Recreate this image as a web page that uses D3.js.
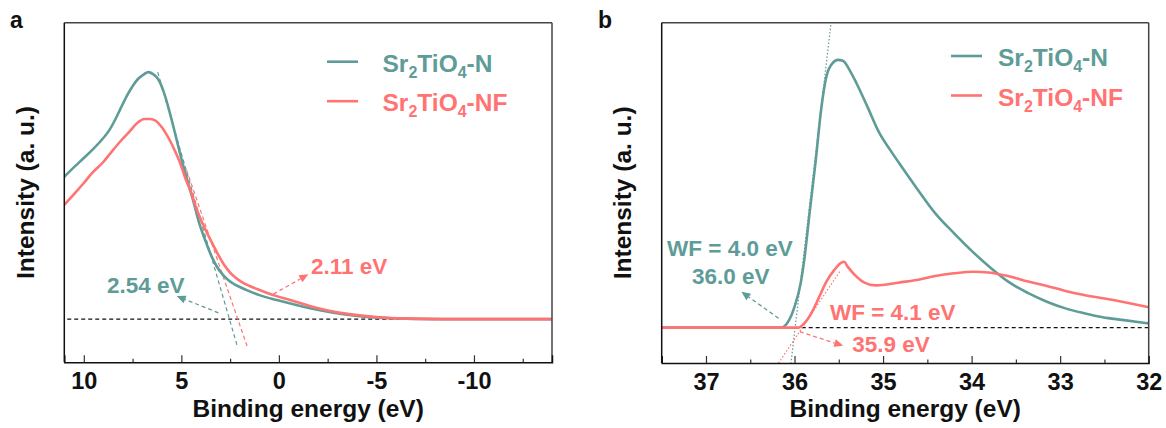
<!DOCTYPE html>
<html><head><meta charset="utf-8">
<script src="https://cdn.jsdelivr.net/npm/d3@7"></script>
<style>
body{margin:0;background:#fff}
text{font-family:"Liberation Sans",Arial,Helvetica,sans-serif;font-weight:bold}
</style>
</head><body>
<svg id="chart" width="1166" height="428"></svg>
<script>
// ---------- DATA ----------
const seriesNames = [["Sr","2","TiO","4","-N"],["Sr","2","TiO","4","-NF"]];
const seriesColors = ["#5E9C97","#FF7373"];

// Panel a: valence band (binding energy, eV)
const vbEnergyN = [11.0,10.5,10.0,9.5,9.0,8.7,8.4,8.1,7.8,7.5,7.2,6.9,6.7,6.45,6.16,5.9,5.6,5.3,5.02,4.7,4.4,4.1,3.78,3.5,3.2,2.9,2.6,2.3,2.0,1.65,1.0,0.1,-1.0,-2.1,-3.3,-4.5,-6.0,-8.0,-14.0];
const vbIntN    = [0.576,0.615,0.652,0.690,0.733,0.764,0.806,0.855,0.903,0.943,0.974,0.992,1.0,0.992,0.968,0.919,0.838,0.745,0.656,0.563,0.482,0.393,0.320,0.263,0.215,0.182,0.158,0.142,0.130,0.117,0.097,0.077,0.055,0.036,0.020,0.009,0.003,0,0];
const vbEnergyNF = [11.0,10.5,10.0,9.58,9.0,8.63,8.2,7.68,7.2,6.9,6.6,6.3,6.0,5.6,5.3,5.02,4.8,4.5,4.2,3.9,3.5,3.1,2.8,2.5,2.2,1.9,1.5,0.96,0.2,-0.57,-1.5,-2.45,-3.6,-5.0,-6.5,-8.5,-14.0];
const vbIntNF    = [0.462,0.506,0.551,0.591,0.636,0.672,0.713,0.757,0.798,0.810,0.810,0.802,0.777,0.725,0.676,0.623,0.571,0.514,0.441,0.385,0.320,0.259,0.219,0.188,0.166,0.150,0.134,0.117,0.095,0.077,0.055,0.036,0.020,0.008,0.002,0,0];
// tangent (extrapolation) lines, panel a: [E, I] endpoints
const vbTangentN  = [[6.21,1.0],[2.15,-0.105]];
const vbTangentNF = [[4.73,0.603],[1.62,-0.112]];
const vbBaseline  = [[10.85,0],[-13.0,0]];

// Panel b: secondary electron cutoff (binding energy, eV)
const secEnergyN = [37.5,36.15,36.11,36.06,36.0,35.93,35.89,35.83,35.76,35.70,35.64,35.57,35.51,35.45,35.38,35.30,35.17,35.05,34.92,34.79,34.62,34.41,34.20,33.99,33.78,33.57,33.36,33.15,32.94,32.73,32.52,32.30,32.0];
const secIntN    = [0,0,0.006,0.029,0.078,0.167,0.253,0.428,0.626,0.813,0.938,0.988,1.0,0.996,0.963,0.913,0.820,0.732,0.664,0.601,0.521,0.427,0.353,0.284,0.222,0.168,0.129,0.097,0.072,0.054,0.039,0.029,0.016];
const secEnergyNF = [37.5,35.96,35.89,35.80,35.72,35.64,35.55,35.47,35.44,35.40,35.32,35.21,35.09,34.98,34.83,34.62,34.41,34.20,33.99,33.78,33.57,33.36,33.15,32.94,32.73,32.52,32.30,32.0];
const secIntNF    = [0,0,0.016,0.060,0.116,0.172,0.216,0.243,0.246,0.228,0.197,0.168,0.158,0.160,0.168,0.178,0.193,0.203,0.209,0.205,0.191,0.172,0.156,0.137,0.122,0.110,0.097,0.076];
const secTangentN  = [[35.59,1.13],[36.04,-0.132]];
const secTangentNF = [[35.49,0.209],[36.18,-0.132]];
const secBaseline  = [[37.5,0],[32.0,0]];

// tick values
const ticksA = [10,5,0,-5,-10];
const minorA = [7.5,2.5,-2.5,-7.5,-12.5];
const ticksB = [37,36,35,34,33,32];
const minorB = [36.5,35.5,34.5,33.5,32.5];

// annotations: text, anchor [E,I], arrow tail/head [E,I]
const annA = [
  {t:"2.54 eV", s:0, at:[6.82,0.104]},
  {t:"2.11 eV", s:1, at:[-3.6,0.182]}
];
const arrowsA = [
  {s:0, from:[3.10,0.0255], to:[5.24,0.093]},
  {s:1, from:[0.28,0.101], to:[-1.51,0.181]}
];
const annB = [
  {t:"WF = 4.0 eV", s:0, at:[36.73,0.268]},
  {t:"36.0 eV", s:0, at:[36.72,0.163]},
  {t:"WF = 4.1 eV", s:1, at:[34.89,0.029]},
  {t:"35.9 eV", s:1, at:[34.91,-0.090]}
];
const arrowsB = [
  {s:0, from:[36.18,0.035], to:[36.60,0.134]},
  {s:1, from:[35.94,-0.015], to:[35.45,-0.068]}
];

// ---------- DRAW ----------
const svg = d3.select("#chart");

function zip(xs, ys){ return xs.map((x,i)=>[x, ys[i]]); }

function panel(cfg){
  const g = svg.append("g");
  const x = d3.scaleLinear().domain(cfg.xdom).range([cfg.left, cfg.right]);
  const y = d3.scaleLinear().domain(cfg.ydom).range([cfg.bottom, cfg.top]);
  const line = d3.line().x(d=>x(d[0])).y(d=>y(d[1]));
  const smooth = d3.line().x(d=>x(d[0])).y(d=>y(d[1])).curve(d3.curveMonotoneX);

  const clipId = "clip"+cfg.id;
  svg.append("clipPath").attr("id",clipId).append("rect")
     .attr("x",cfg.left).attr("y",cfg.top).attr("width",cfg.right-cfg.left).attr("height",cfg.bottom-cfg.top);
  const plot = g.append("g").attr("clip-path",`url(#${clipId})`);

  plot.append("path").attr("d",line(cfg.baseline)).attr("fill","none")
      .attr("stroke","#111").attr("stroke-width",1.3).attr("stroke-dasharray","4,3");
  cfg.tangents.forEach((t,i)=>{
    plot.append("path").attr("d",line(t)).attr("fill","none")
      .attr("stroke",seriesColors[i]).attr("stroke-width",1.2).attr("stroke-dasharray",cfg.tdash);
  });
  cfg.series.forEach((s,i)=>{
    plot.append("path").attr("d",smooth(s)).attr("fill","none")
      .attr("stroke",seriesColors[i]).attr("stroke-width",2.6).attr("stroke-linejoin","round");
  });

  cfg.arrows.forEach(a=>{
    const x1=x(a.from[0]), y1=y(a.from[1]), x2=x(a.to[0]), y2=y(a.to[1]);
    const ang=Math.atan2(y2-y1,x2-x1), L=9, W=4;
    const bx=x2-L*Math.cos(ang), by=y2-L*Math.sin(ang);
    g.append("line").attr("x1",x1).attr("y1",y1).attr("x2",bx).attr("y2",by)
      .attr("stroke",seriesColors[a.s]).attr("stroke-width",1.3).attr("stroke-dasharray","4,3");
    const px=-Math.sin(ang), py=Math.cos(ang);
    g.append("path").attr("d",`M${x2},${y2}L${bx+W*px},${by+W*py}L${bx-W*px},${by-W*py}Z`)
      .attr("fill",seriesColors[a.s]);
  });
  cfg.ann.forEach(a=>{
    g.append("text").attr("x",x(a.at[0])).attr("y",y(a.at[1])).attr("text-anchor","middle")
      .attr("font-size",22.5).attr("fill",seriesColors[a.s]).text(a.t);
  });

  g.append("line").attr("x1",cfg.left).attr("x2",cfg.right).attr("y1",cfg.top).attr("y2",cfg.top).attr("stroke","#444").attr("stroke-width",1.5);
  g.append("line").attr("x1",cfg.right).attr("x2",cfg.right).attr("y1",cfg.top).attr("y2",cfg.bottom).attr("stroke","#444").attr("stroke-width",1.5);
  g.append("line").attr("x1",cfg.left).attr("x2",cfg.left).attr("y1",cfg.top).attr("y2",cfg.bottom).attr("stroke","#111").attr("stroke-width",1.5);

  const ax = g.append("g").attr("transform",`translate(0,${cfg.bottom})`)
    .call(d3.axisBottom(x).tickValues(cfg.ticks).tickSize(-7).tickPadding(10).tickFormat(d=>String(d)));
  ax.select(".domain").attr("stroke","#111").attr("stroke-width",1.5);
  ax.selectAll(".tick line").attr("stroke","#333").attr("stroke-width",1.2);
  ax.selectAll("text").attr("font-size",23.5).attr("fill","#111")
    .style("font-family",'"Liberation Sans",Arial,sans-serif').style("font-weight","bold");
  const mx = g.append("g").attr("transform",`translate(0,${cfg.bottom})`)
    .call(d3.axisBottom(x).tickValues(cfg.minor).tickSize(-3.5).tickFormat(""));
  mx.select(".domain").remove();
  mx.selectAll(".tick line").attr("stroke","#333").attr("stroke-width",1.2);

  g.append("text").attr("x",(cfg.left+cfg.right)/2).attr("y",417).attr("text-anchor","middle")
    .attr("font-size",24.5).attr("fill","#111").text("Binding energy (eV)");
  g.append("text").attr("transform",`translate(${cfg.ytx},${(cfg.top+cfg.bottom)/2}) rotate(-90)`)
    .attr("text-anchor","middle").attr("font-size",24.5).attr("fill","#111").text("Intensity (a. u.)");
  g.append("text").attr("x",cfg.lx).attr("y",28).attr("font-size",23).attr("fill","#111").text(cfg.letter);

  seriesNames.forEach((parts,i)=>{
    const ly = cfg.legY + i*39.5;
    g.append("line").attr("x1",cfg.legX).attr("x2",cfg.legX+31).attr("y1",ly).attr("y2",ly)
      .attr("stroke",seriesColors[i]).attr("stroke-width",2.6);
    const t = g.append("text").attr("x",cfg.legTX).attr("y",ly+10).attr("font-size",24.5).attr("fill",seriesColors[i]);
    parts.forEach((p,k)=>{
      const sub = k%2===1;
      t.append("tspan").attr("dy", k===0?0:(sub?6:-6)).attr("font-size", sub?16:24.5).text(p);
    });
  });
}

panel({
  id:"a", letter:"a", lx:10,
  left:64.3, right:552, top:22.7, bottom:362.3,
  xdom:[11,-14], ydom:[-0.175,1.2],
  series:[zip(vbEnergyN,vbIntN), zip(vbEnergyNF,vbIntNF)],
  tangents:[vbTangentN, vbTangentNF], tdash:"4,3",
  baseline: vbBaseline,
  ticks:ticksA, minor:minorA,
  ann:annA, arrows:arrowsA,
  ytx:34, legX:327, legTX:382.5, legY:61.7
});
panel({
  id:"b", letter:"b", lx:598,
  left:661.7, right:1148.7, top:22.7, bottom:363,
  xdom:[37.5,32], ydom:[-0.132,1.139],
  series:[zip(secEnergyN,secIntN), zip(secEnergyNF,secIntNF)],
  tangents:[secTangentN, secTangentNF], tdash:"1.5,2",
  baseline: secBaseline,
  ticks:ticksB, minor:minorB,
  ann:annB, arrows:arrowsB,
  ytx:631, legX:951, legTX:998, legY:56
});
</script>
</body></html>
